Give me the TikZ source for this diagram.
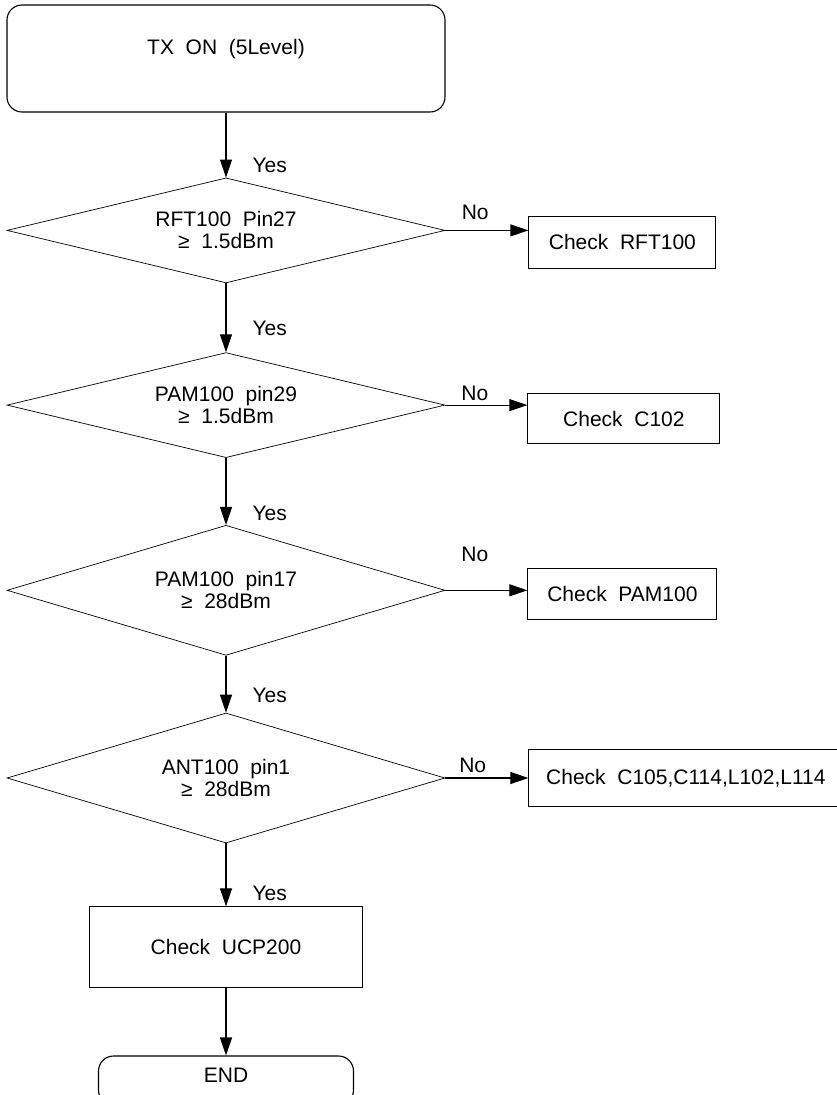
\documentclass[tikz,border=0pt]{standalone}
\usepackage{fontspec}
\setmainfont{Liberation Sans}
\usetikzlibrary{arrows.meta,positioning,shapes.geometric}

\begin{document}
\begin{tikzpicture}[
  x=1pt, y=-1pt,
  font=\fontsize{21}{22}\selectfont,
  >={Triangle[length=18pt,width=12pt]},
  line width=1.1pt,
  box/.style={draw, align=center, inner sep=0pt},
  term/.style={draw, rounded corners=15pt, inner sep=0pt, minimum width=#1},
  dec/.style={draw, diamond, aspect=4, align=center, inner sep=0pt, line width=0.7pt,
    minimum width=438pt, minimum height=#1},
  dec/.default=105pt,
  lbl/.style={inner sep=0pt},
]
\useasboundingbox (0,0) rectangle (837,1095);

\node[term=438pt, text height=49.5pt, text depth=57.5pt] (start) at (226,58.5) {TX~~ON~~(5Level)};
\node[dec, below=65pt of start] (d1) {RFT100~~Pin27\\≥~~1.5dBm};
\node[dec, below=69pt of d1] (d2) {PAM100~~pin29\\≥~~1.5dBm};
\node[dec=130pt, below=67pt of d2] (d3) {PAM100~~pin17\\≥~~28dBm};
\node[dec=130pt, below=57pt of d3] (d4) {ANT100~~pin1\\≥~~28dBm};
\node[box, minimum width=273pt, minimum height=81pt, below=63pt of d4] (ucp) {Check~~UCP200};
\node[term=255pt, text height=26.5pt, text depth=22.5pt, below=67pt of ucp] (fin) {END};

\node[box, minimum width=187pt, minimum height=52pt, right=83pt of d1, yshift=-12pt] (c1) {Check~~RFT100};
\node[box, minimum width=192pt, minimum height=50pt, right=82pt of d2, yshift=-13.5pt] (c2) {Check~~C102};
\node[box, minimum width=189pt, minimum height=51pt, right=82pt of d3, yshift=-3.5pt] (c3) {Check~~PAM100};
\node[box, minimum width=314pt, minimum height=57pt, right=83pt of d4] (c4) {Check~~C105,C114,L102,L114};

\draw[->] (start) -- node[lbl, pos=.82, right=26pt]{Yes} (d1);
\draw[->] (d1) -- node[lbl, pos=.65, right=26pt]{Yes} (d2);
\draw[->] (d2) -- node[lbl, pos=.82, right=26pt]{Yes} (d3);
\draw[->] (d3) -- node[lbl, pos=.70, right=26pt]{Yes} (d4);
\draw[->] (d4) -- node[lbl, pos=.79, right=26pt]{Yes} (ucp);
\draw[->] (ucp) -- (fin);

\draw[->] (d1.east) -- node[lbl, pos=.36, above=10pt]{No} (d1.east -| c1.west);
\draw[->] (d2.east) -- node[lbl, pos=.36, above=4pt]{No} (d2.east -| c2.west);
\draw[->] (d3.east) -- node[lbl, pos=.36, above=28pt]{No} (d3.east -| c3.west);
\draw[->] (d4.east) -- node[lbl, pos=.33, above=5pt]{No} (d4.east -| c4.west);
\end{tikzpicture}
\end{document}
